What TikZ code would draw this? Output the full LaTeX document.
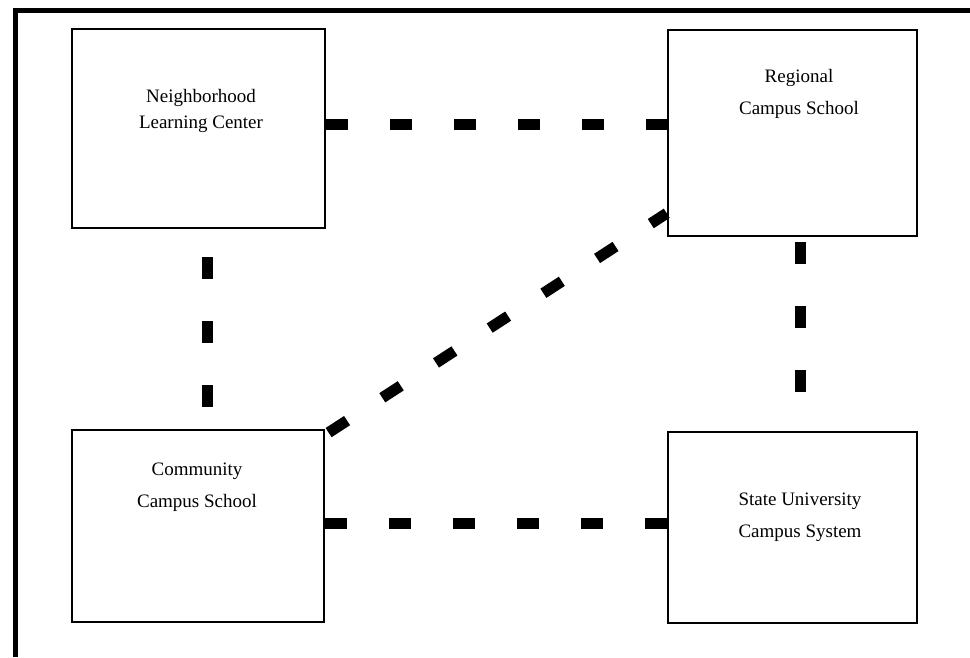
\documentclass[tikz,border=0pt]{standalone}
\usepackage{fontspec}
\setmainfont{Liberation Serif}
\usetikzlibrary{
  calc,
  positioning,
}
\tikzset{
  box/.style={draw, line width=2.5pt, inner sep=0pt},
  lbl/.style={align=center, inner sep=0pt, font=\fontsize{19}{32}\selectfont},
  link/.style={line width=11pt, dash pattern=on 22pt off 42pt},
}

\begin{document}
\begin{tikzpicture}[x=1pt, y=-1pt]
      \useasboundingbox (0,0) rectangle (970,657);
      \draw [line width=5pt, line join=miter] (15,657) -- (15,10) -- (970,10);

      \node [box, minimum width=253pt, minimum height=199pt] (nlc) at (198.5,128.5) {};
      \node [box, minimum width=249pt, minimum height=206pt] (rcs) at (792.5,133) {};
      \node [box, minimum width=252pt, minimum height=192pt] (ccs) at (198,526) {};
      \node [box, minimum width=249pt, minimum height=191pt] (sucs) at (792.5,527.5) {};

      \node [lbl, font=\fontsize{19}{26}\selectfont] (nlctext) at (201,111) {Neighborhood\\Learning Center};
      \node [lbl] (rcstext) at (799,94) {Regional\\Campus School};
      \node [lbl] (ccstext) at (197,487) {Community\\Campus School};
      \node [lbl] (sucstext) at (800,517) {State University\\Campus System};

      \draw [link] ([yshift=4.5pt]nlc.east) -- ([yshift=9pt]rcs.west);
      \draw [link] ([yshift=3pt]ccs.east) -- ([yshift=4.5pt]sucs.west);
      \draw [link, dash phase=36pt] ([xshift=8.5pt]nlc.south) -- ([xshift=9pt]ccs.north);
      \draw [link, dash phase=59pt] ([xshift=7.5pt]rcs.south) -- ([xshift=7.5pt]sucs.north);
      \draw [link, dash phase=60pt] ([yshift=-6pt]ccs.north east) -- ([yshift=24pt]rcs.south west);
    \end{tikzpicture}
\end{document}
